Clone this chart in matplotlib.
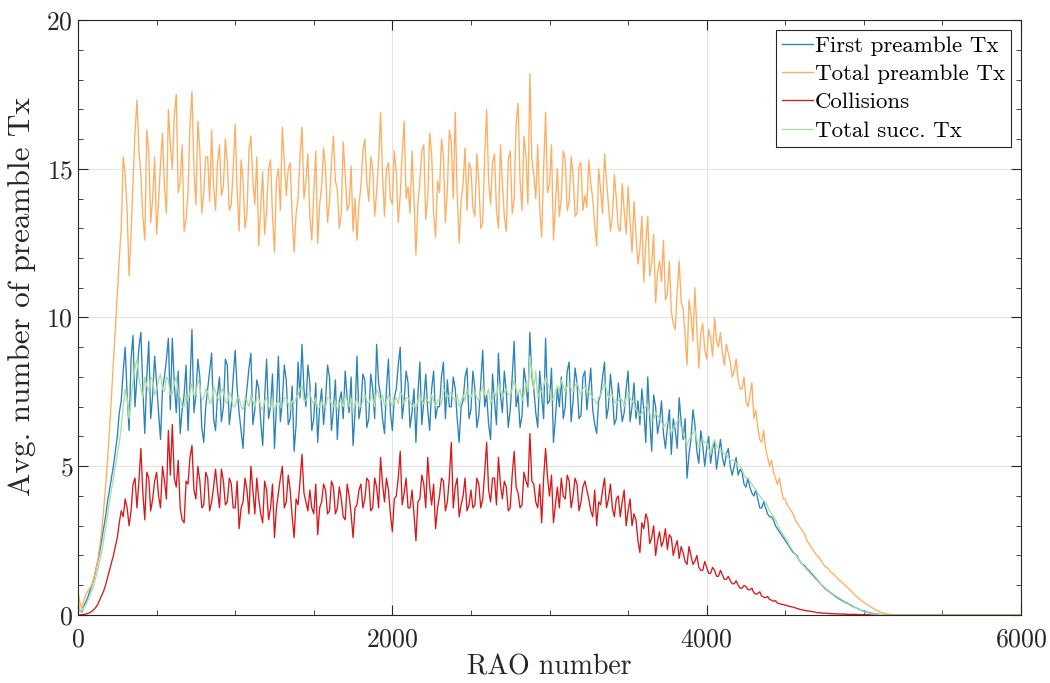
import numpy as np
import matplotlib
matplotlib.use("Agg")
import matplotlib.pyplot as plt
from matplotlib.ticker import MultipleLocator

# RAO sample positions: every 25 RAOs up to 5275 (plus the end of the run),
# and the in-between samples read at 12.5 + 25k
rao = list(range(0, 5300, 25)) + [6000]
rao_mid = [12.5 + 25 * k for k in range(212)]

first_tx = [
    0.3, 0.1, 0.45, 0.8, 1.2, 1.8, 2.5, 3.3, 4.2, 5.0, 6.0, 7.2, 9.0, 6.2, 9.4, 8.0, 9.5, 6.1, 9.2, 7.4,
    7.8, 5.9, 8.0, 9.3, 9.3, 6.8, 6.1, 7.4, 6.2, 9.6, 7.4, 8.0, 5.8, 7.6, 8.8, 6.2, 8.0, 7.0, 8.4, 7.0,
    8.9, 6.8, 5.6, 7.6, 8.8, 6.9, 7.6, 5.7, 8.6, 7.0, 5.6, 8.7, 7.2, 7.9, 6.6, 5.5, 8.5, 9.1, 7.0, 7.8,
    6.6, 5.8, 7.6, 7.2, 8.0, 6.9, 5.9, 7.5, 8.2, 6.8, 5.7, 8.7, 7.0, 7.9, 6.6, 7.6, 9.1, 7.4, 6.1, 8.6,
    6.2, 7.6, 9.0, 7.2, 7.8, 6.8, 5.8, 8.5, 7.2, 6.9, 7.6, 6.6, 7.0, 8.5, 7.9, 7.0, 7.6, 5.8, 7.2, 8.3,
    6.9, 7.6, 6.7, 8.9, 7.4, 5.9, 7.2, 8.8, 6.8, 7.5, 6.9, 9.2, 7.4, 6.7, 7.8, 9.5, 7.6, 6.3, 7.4, 9.3,
    7.2, 5.8, 7.6, 8.0, 7.0, 8.5, 7.2, 7.8, 6.7, 8.2, 7.6, 6.9, 6.1, 7.4, 8.5, 7.0, 7.4, 6.6, 7.2, 6.8,
    8.2, 7.0, 6.6, 6.4, 6.9, 8.0, 5.5, 7.0, 6.5, 6.1, 6.3, 5.4, 6.2, 7.3, 5.9, 4.6, 5.9, 6.4, 5.1, 5.7,
    5.6, 5.1, 5.8, 5.4, 5.3, 5.4, 5.0, 5.0, 4.7, 4.8, 4.3, 4.3, 4.0, 3.9, 3.6, 3.6, 3.3, 3.2, 2.9, 2.7,
    2.5, 2.3, 2.1, 2.0, 1.75, 1.65, 1.5, 1.35, 1.2, 1.05, 0.9, 0.8, 0.7, 0.6, 0.52, 0.45, 0.38, 0.3, 0.24, 0.18,
    0.13, 0.09, 0.06, 0.04, 0.02, 0.01, 0.0, 0.0, 0.0, 0.0, 0.0, 0.0,
    0.0,
]
first_tx_mid = [
    0.15, 0.3, 0.6, 1.0, 1.5, 2.1, 2.9, 3.8, 4.6, 5.5, 6.8, 8.2, 7.4, 8.6, 7.0, 9.0, 7.6, 8.0, 6.6, 8.7,
    6.8, 7.6, 8.6, 6.9, 7.8, 8.2, 6.9, 8.4, 7.8, 6.8, 8.6, 6.3, 7.0, 8.2, 6.6, 7.4, 6.5, 8.6, 6.4, 8.0,
    7.6, 6.2, 7.0, 8.3, 6.4, 7.9, 6.5, 7.3, 6.6, 8.1, 7.0, 6.5, 8.4, 6.4, 7.7, 6.4, 7.3, 7.6, 8.4, 6.2,
    7.8, 7.0, 6.4, 8.4, 6.2, 7.9, 7.2, 6.6, 7.3, 8.0, 6.8, 6.6, 8.1, 6.3, 8.1, 6.6, 7.8, 6.6, 7.6, 6.8,
    7.3, 8.4, 6.6, 8.2, 6.3, 7.6, 7.4, 6.4, 8.1, 6.2, 8.2, 7.0, 8.0, 6.6, 7.0, 8.0, 6.6, 7.0, 8.0, 6.6,
    8.2, 6.3, 7.8, 7.0, 6.4, 8.1, 6.4, 7.4, 8.2, 6.3, 8.0, 7.0, 6.3, 8.3, 7.0, 8.0, 6.8, 8.2, 6.6, 7.1,
    8.3, 6.6, 7.0, 6.6, 8.2, 6.5, 8.3, 6.6, 8.0, 6.9, 8.3, 6.4, 7.2, 8.0, 6.6, 8.1, 6.4, 7.8, 6.5, 7.6,
    6.5, 7.8, 7.2, 7.6, 5.8, 6.6, 7.4, 6.1, 7.2, 5.6, 6.9, 6.6, 5.6, 6.5, 6.6, 5.4, 6.9, 5.5, 6.2, 5.0,
    6.0, 5.6, 4.9, 5.9, 5.0, 5.6, 4.7, 5.3, 4.9, 4.4, 4.6, 4.1, 4.2, 3.6, 3.8, 3.4, 3.3, 3.0, 2.8, 2.6,
    2.4, 2.2, 2.05, 1.85, 1.7, 1.55, 1.42, 1.27, 1.12, 0.97, 0.85, 0.75, 0.65, 0.56, 0.48, 0.41, 0.34, 0.27, 0.21, 0.15,
    0.11, 0.075, 0.05, 0.03, 0.015, 0.005, 0.0, 0.0, 0.0, 0.0, 0.0, 0.0,
]

total_tx = [
    0.8, 0.2, 0.7, 0.9, 1.2, 1.8, 2.8, 4.3, 6.2, 8.5, 10.8, 13.0, 14.8, 11.4, 14.6, 17.3, 14.8, 12.6, 15.6, 14.0,
    12.8, 15.2, 14.4, 17.0, 15.0, 17.5, 14.6, 12.9, 14.2, 17.6, 13.8, 15.6, 14.2, 15.4, 16.3, 13.6, 15.8, 14.4, 15.2, 13.8,
    16.5, 12.9, 14.6, 13.5, 16.1, 13.8, 12.4, 14.9, 13.6, 15.3, 12.2, 15.0, 16.4, 14.1, 15.2, 12.2, 14.0, 16.4, 14.6, 13.4,
    14.2, 12.5, 14.4, 15.0, 13.9, 16.1, 14.3, 13.5, 14.8, 13.8, 12.9, 12.6, 14.4, 16.0, 13.9, 15.0, 14.2, 16.9, 13.4, 15.2,
    13.8, 14.9, 14.1, 16.6, 14.4, 15.6, 12.1, 14.6, 15.8, 14.0, 15.5, 12.7, 14.2, 15.4, 14.3, 15.9, 16.9, 12.5, 14.5, 13.6,
    15.0, 13.4, 14.6, 13.2, 17.0, 13.8, 15.5, 13.0, 14.5, 12.9, 15.6, 14.0, 17.2, 13.6, 15.4, 18.2, 14.8, 15.8, 12.7, 16.9,
    14.5, 12.6, 15.0, 14.0, 15.3, 13.9, 14.8, 13.5, 15.2, 14.1, 15.3, 14.0, 12.4, 14.3, 15.5, 13.8, 13.4, 14.0, 12.9, 13.6,
    14.4, 12.2, 12.8, 12.3, 11.2, 13.4, 11.8, 10.5, 11.9, 12.6, 10.8, 10.2, 9.6, 11.9, 10.3, 8.4, 10.1, 11.0, 8.3, 9.8,
    8.6, 9.3, 10.0, 9.0, 8.8, 9.1, 8.5, 8.2, 7.9, 7.6, 7.2, 7.4, 6.6, 6.3, 5.8, 5.6, 5.0, 4.8, 4.4, 4.2,
    3.9, 3.6, 3.4, 3.1, 2.9, 2.7, 2.4, 2.2, 2.0, 1.85, 1.65, 1.55, 1.4, 1.28, 1.15, 1.02, 0.9, 0.78, 0.64, 0.52,
    0.42, 0.34, 0.25, 0.17, 0.11, 0.06, 0.03, 0.02, 0.01, 0.0, 0.0, 0.0,
    0.0,
]
total_tx_mid = [
    0.4, 0.5, 0.8, 1.0, 1.5, 2.3, 3.5, 5.2, 7.3, 9.6, 12.0, 15.4, 13.6, 12.8, 16.2, 15.6, 13.4, 16.3, 13.2, 15.4,
    13.9, 16.2, 13.5, 15.8, 16.8, 14.2, 15.8, 13.3, 16.5, 15.0, 16.6, 13.5, 15.4, 13.9, 14.4, 15.2, 14.1, 16.0, 13.6, 15.0,
    14.2, 15.3, 13.0, 15.6, 14.6, 15.4, 13.7, 12.8, 15.0, 13.4, 14.6, 13.6, 15.2, 15.0, 13.4, 13.5, 15.4, 14.0, 15.5, 12.6,
    15.6, 13.8, 15.7, 13.2, 15.2, 14.6, 13.0, 15.9, 13.6, 15.1, 14.0, 13.8, 15.6, 14.6, 15.4, 13.4, 15.3, 14.8, 15.0, 14.0,
    15.6, 13.2, 15.5, 14.0, 13.5, 14.0, 13.8, 15.6, 13.3, 16.2, 13.5, 14.6, 16.0, 13.2, 16.3, 14.0, 14.2, 13.9, 15.7, 15.2,
    13.7, 15.5, 13.0, 15.4, 14.6, 15.2, 13.6, 15.8, 13.4, 15.3, 13.5, 16.5, 14.6, 16.1, 13.8, 15.3, 14.0, 13.7, 15.0, 14.2,
    15.8, 13.8, 13.4, 15.6, 13.6, 15.4, 13.4, 15.1, 13.6, 13.7, 14.5, 13.1, 15.0, 13.5, 14.6, 12.9, 14.8, 13.0, 14.5, 12.8,
    13.2, 13.9, 11.8, 13.4, 12.5, 11.4, 12.8, 11.5, 11.2, 10.6, 11.9, 9.8, 10.9, 10.5, 9.4, 10.6, 9.2, 9.6, 9.5, 8.9,
    9.6, 8.7, 9.2, 9.5, 8.4, 8.8, 8.0, 8.6, 7.6, 8.0, 7.0, 7.8, 6.9, 5.9, 6.2, 5.3, 5.2, 4.6, 4.6, 3.9,
    3.7, 3.5, 3.2, 3.0, 2.8, 2.5, 2.3, 2.1, 1.95, 1.75, 1.6, 1.45, 1.35, 1.2, 1.08, 0.96, 0.84, 0.7, 0.58, 0.47,
    0.38, 0.3, 0.21, 0.14, 0.08, 0.045, 0.025, 0.015, 0.005, 0.0, 0.0, 0.0,
]

collisions = [
    0.0, 0.01, 0.03, 0.08, 0.18, 0.35, 0.65, 1.0, 1.5, 2.0, 2.6, 3.5, 3.9, 3.0, 4.4, 3.6, 5.6, 3.2, 4.6, 3.9,
    4.8, 3.6, 4.5, 6.2, 6.4, 4.3, 3.6, 3.1, 4.4, 5.7, 3.9, 4.5, 3.7, 4.6, 3.8, 4.9, 3.6, 4.5, 3.8, 4.4,
    3.6, 2.9, 3.8, 4.2, 5.0, 3.4, 3.9, 3.1, 4.2, 3.6, 2.6, 4.1, 5.0, 3.8, 4.2, 2.6, 3.7, 5.4, 3.8, 4.2,
    3.4, 2.7, 3.8, 4.2, 3.5, 4.3, 3.6, 3.9, 3.2, 4.0, 2.6, 3.7, 4.4, 3.9, 4.5, 3.6, 4.3, 5.3, 3.8, 4.2,
    2.8, 4.0, 5.5, 4.1, 3.6, 4.2, 2.5, 3.9, 4.4, 5.3, 3.7, 2.9, 4.0, 4.5, 3.8, 5.8, 4.3, 3.3, 4.0, 3.5,
    4.2, 3.7, 4.4, 3.9, 5.8, 3.8, 4.6, 5.3, 3.9, 4.3, 3.6, 5.5, 4.1, 3.7, 4.5, 6.1, 4.4, 3.6, 3.1, 5.6,
    4.0, 3.1, 4.3, 4.6, 3.9, 4.5, 4.0, 4.4, 3.8, 4.5, 3.9, 3.3, 3.0, 3.7, 4.6, 3.9, 3.6, 3.9, 3.3, 4.2,
    3.5, 3.0, 3.2, 2.1, 2.9, 3.2, 2.6, 2.0, 2.8, 2.5, 2.2, 2.6, 2.3, 1.9, 2.1, 1.7, 2.0, 1.8, 1.6, 1.5,
    1.6, 1.4, 1.5, 1.3, 1.35, 1.2, 1.15, 1.05, 1.0, 0.9, 0.95, 0.85, 0.75, 0.72, 0.64, 0.58, 0.52, 0.46, 0.4, 0.36,
    0.33, 0.29, 0.26, 0.22, 0.18, 0.15, 0.13, 0.11, 0.08, 0.07, 0.06, 0.05, 0.04, 0.04, 0.03, 0.03, 0.02, 0.02, 0.02, 0.01,
    0.01, 0.01, 0.0, 0.0, 0.0, 0.0, 0.0, 0.0, 0.0, 0.0, 0.0, 0.0,
    0.0,
]
collisions_mid = [
    0.0, 0.02, 0.05, 0.12, 0.25, 0.5, 0.8, 1.25, 1.75, 2.3, 3.1, 3.3, 3.6, 3.5, 4.6, 4.5, 4.1, 4.8, 3.5, 4.5,
    4.0, 5.0, 3.9, 4.7, 4.6, 5.2, 3.2, 4.5, 5.3, 4.2, 5.0, 3.6, 4.8, 3.5, 4.3, 4.2, 4.9, 3.7, 4.6, 3.6,
    4.5, 3.6, 4.6, 3.4, 4.2, 4.6, 3.4, 4.5, 3.2, 4.4, 3.6, 4.6, 3.6, 4.7, 3.3, 3.9, 4.5, 4.1, 3.5, 3.6,
    4.4, 3.6, 4.4, 3.4, 4.5, 3.4, 4.3, 3.3, 4.4, 3.4, 3.6, 4.2, 3.6, 4.6, 3.5, 4.6, 3.6, 4.4, 4.6, 3.4,
    3.9, 4.6, 3.7, 4.6, 3.6, 3.4, 3.8, 4.7, 3.6, 4.3, 4.4, 3.6, 4.6, 3.5, 4.6, 3.6, 4.6, 3.7, 4.6, 3.7,
    3.6, 4.6, 3.6, 4.8, 4.2, 4.6, 3.7, 4.4, 4.5, 3.5, 4.7, 4.3, 3.6, 4.8, 4.3, 4.5, 3.8, 4.4, 4.6, 4.6,
    4.7, 3.7, 3.6, 4.0, 4.7, 3.6, 4.6, 3.5, 4.3, 4.2, 3.5, 4.2, 3.8, 4.2, 3.6, 4.4, 3.3, 4.0, 3.8, 3.0,
    3.9, 3.4, 2.5, 3.1, 3.4, 2.4, 3.0, 2.5, 2.3, 2.9, 2.7, 2.0, 2.5, 2.3, 1.8, 2.3, 1.7, 2.0, 1.5, 1.8,
    1.4, 1.6, 1.3, 1.5, 1.2, 1.3, 1.05, 1.15, 0.9, 1.0, 0.85, 0.9, 0.7, 0.78, 0.6, 0.62, 0.5, 0.48, 0.38, 0.35,
    0.31, 0.28, 0.24, 0.2, 0.17, 0.14, 0.12, 0.1, 0.08, 0.06, 0.055, 0.045, 0.04, 0.035, 0.03, 0.025, 0.02, 0.02, 0.015, 0.01,
    0.01, 0.005, 0.0, 0.0, 0.0, 0.0, 0.0, 0.0, 0.0, 0.0, 0.0, 0.0,
]

succ_tx = [
    0.5, 0.15, 0.35, 0.65, 1.0, 1.5, 2.1, 2.9, 3.8, 4.6, 5.4, 6.3, 7.6, 6.6, 7.9, 8.6, 7.6, 8.0, 7.5, 7.9,
    7.6, 8.1, 7.5, 7.9, 7.4, 8.0, 7.3, 7.0, 7.2, 7.8, 7.4, 7.7, 7.3, 7.5, 7.2, 7.5, 7.2, 7.5, 7.1, 7.3,
    7.0, 7.3, 6.9, 7.2, 7.4, 7.0, 7.3, 6.9, 7.3, 7.0, 6.8, 7.2, 7.0, 7.3, 6.9, 7.1, 7.4, 7.7, 7.2, 7.5,
    7.1, 6.9, 7.2, 7.0, 7.3, 7.0, 6.9, 7.2, 7.4, 7.0, 6.8, 7.3, 7.0, 7.4, 7.1, 7.3, 7.6, 7.2, 7.0, 7.4,
    7.0, 7.3, 7.5, 7.1, 7.3, 7.0, 6.9, 7.4, 7.1, 7.2, 7.4, 7.0, 7.3, 7.6, 7.3, 7.5, 7.2, 7.0, 7.4, 7.6,
    7.3, 7.5, 7.2, 7.7, 7.4, 7.1, 7.5, 7.8, 7.3, 7.6, 7.4, 7.9, 7.4, 7.2, 7.8, 8.7, 7.6, 7.3, 7.5, 8.0,
    7.6, 7.2, 7.7, 7.9, 7.5, 7.8, 7.5, 7.8, 7.4, 7.7, 7.5, 7.3, 7.1, 7.4, 7.8, 7.3, 7.4, 7.1, 7.3, 7.0,
    7.5, 7.2, 6.9, 6.7, 6.9, 7.1, 6.5, 6.8, 6.6, 6.3, 6.5, 6.1, 6.4, 6.6, 6.1, 5.7, 6.0, 6.2, 5.6, 5.9,
    5.8, 5.4, 5.9, 5.6, 5.5, 5.4, 5.2, 5.2, 5.0, 4.9, 4.6, 4.5, 4.3, 4.1, 3.9, 3.8, 3.5, 3.3, 3.05, 2.8,
    2.6, 2.35, 2.15, 1.95, 1.75, 1.6, 1.45, 1.3, 1.17, 1.05, 0.93, 0.82, 0.72, 0.63, 0.55, 0.47, 0.4, 0.32, 0.24, 0.17,
    0.11, 0.07, 0.05, 0.03, 0.02, 0.01, 0.0, 0.0, 0.0, 0.0, 0.0, 0.0,
    0.0,
]
succ_tx_mid = [
    0.1, 0.25, 0.5, 0.8, 1.25, 1.8, 2.5, 3.3, 4.2, 5.0, 5.8, 7.0, 7.3, 7.2, 8.3, 8.0, 7.3, 7.7, 8.0, 7.4,
    7.9, 7.6, 8.0, 7.4, 7.8, 7.5, 7.0, 7.4, 7.5, 7.4, 7.9, 7.2, 7.6, 7.1, 7.7, 7.3, 7.6, 7.2, 7.5, 7.0,
    7.3, 7.0, 7.3, 7.0, 7.2, 7.3, 7.0, 7.2, 7.0, 7.3, 7.1, 7.0, 7.3, 7.1, 7.2, 7.3, 7.6, 7.2, 7.4, 7.2,
    7.3, 7.0, 7.0, 7.3, 7.1, 7.2, 7.1, 7.0, 7.2, 7.3, 7.1, 7.0, 7.2, 7.2, 7.3, 7.0, 7.4, 7.4, 7.2, 7.2,
    7.2, 7.1, 7.4, 7.3, 7.2, 7.1, 7.2, 7.2, 7.3, 7.1, 7.2, 7.2, 7.1, 7.5, 7.4, 7.3, 7.4, 7.2, 7.2, 7.4,
    7.5, 7.3, 7.5, 7.4, 7.6, 7.3, 7.3, 7.6, 7.5, 7.4, 7.6, 7.6, 7.6, 7.4, 7.5, 8.2, 8.2, 7.5, 7.7, 7.8,
    7.3, 7.5, 7.5, 7.7, 7.7, 7.6, 7.7, 7.6, 7.6, 7.5, 7.4, 7.2, 7.3, 7.6, 7.6, 7.4, 7.2, 7.2, 7.2, 7.3,
    7.3, 7.1, 6.8, 6.8, 7.0, 6.8, 6.6, 6.7, 6.5, 6.4, 6.3, 6.3, 6.5, 6.3, 5.9, 5.9, 6.1, 5.9, 5.8, 5.8,
    5.6, 5.7, 5.7, 5.5, 5.4, 5.3, 5.2, 5.1, 5.0, 4.7, 4.6, 4.4, 4.2, 4.0, 3.85, 3.65, 3.4, 3.2, 2.9, 2.7,
    2.5, 2.25, 2.05, 1.85, 1.68, 1.52, 1.38, 1.23, 1.11, 0.99, 0.87, 0.77, 0.67, 0.59, 0.51, 0.43, 0.36, 0.28, 0.2, 0.14,
    0.09, 0.06, 0.04, 0.025, 0.015, 0.005, 0.0, 0.0, 0.0, 0.0, 0.0, 0.0,
]

labels = ["First preamble Tx", "Total preamble Tx", "Collisions", "Total succ. Tx"]
colors = ["#2b83ba", "#fdae61", "#d7191c", "#abdda4"]

plt.rcParams["font.family"] = "cmr10"
plt.rcParams["mathtext.fontset"] = "cm"
plt.rcParams["axes.formatter.use_mathtext"] = True

fig = plt.figure(figsize=(10.5, 6.83), dpi=100)
ax = fig.add_axes([0.0743, 0.0996, 0.8981, 0.8711])

x_all = np.concatenate([rao, rao_mid])
order = np.argsort(x_all, kind="stable")
series_list = [(first_tx, first_tx_mid), (total_tx, total_tx_mid),
               (collisions, collisions_mid), (succ_tx, succ_tx_mid)]
for (main, mid), lab, col in zip(series_list, labels, colors):
    y_all = np.concatenate([main, mid])
    ax.plot(x_all[order], y_all[order], color=col, lw=0.95, label=lab)

ax.set_xlim(0, 6000)
ax.set_ylim(0, 20)
ax.xaxis.set_major_locator(MultipleLocator(2000))
ax.xaxis.set_minor_locator(MultipleLocator(500))
ax.yaxis.set_major_locator(MultipleLocator(5))
ax.yaxis.set_minor_locator(MultipleLocator(1))
ax.grid(True, which="major", color="#e3e3e3", lw=0.8)
ax.set_axisbelow(True)
ax.tick_params(which="both", direction="in", top=True, right=True, colors="#262626",
               labelsize=18.5, labelcolor="#262626")
ax.tick_params(which="major", length=7, width=0.8)
ax.tick_params(which="minor", length=3.6, width=0.6)
ax.tick_params(axis="x", pad=9)
for s in ax.spines.values():
    s.set_color("#262626")
    s.set_linewidth(0.8)

ax.set_xlabel("RAO number", fontsize=20, color="#262626", labelpad=2)
ax.set_ylabel("Avg. number of preamble Tx", fontsize=22.5, color="#262626")
ax.yaxis.set_label_coords(-0.045, 0.535)

leg = ax.legend(loc="upper right", bbox_to_anchor=(0.9894, 0.983), fontsize=16.5,
                fancybox=False, edgecolor="#262626", framealpha=1, borderpad=0.25,
                labelspacing=0.36, handlelength=1.35, handletextpad=0.1, borderaxespad=0)
leg.get_frame().set_linewidth(0.8)

fig.savefig("out.png", dpi=100)
